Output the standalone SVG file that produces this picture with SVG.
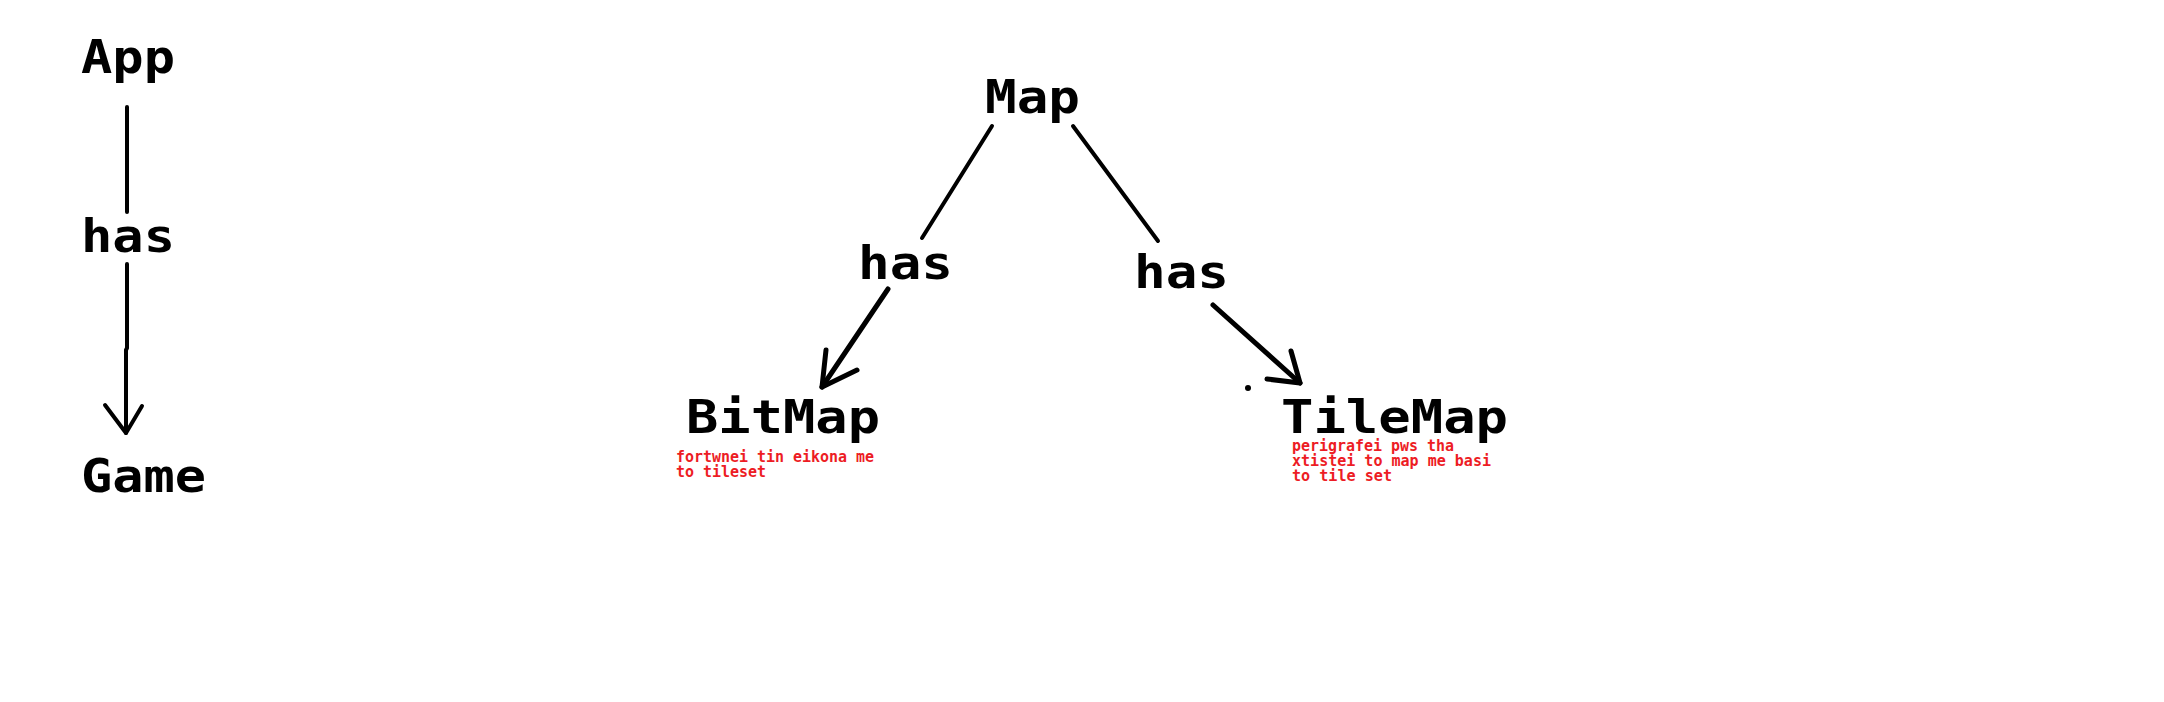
<svg xmlns="http://www.w3.org/2000/svg" width="2164" height="702" viewBox="0 0 2164 702">
<style>
.lbl{font-family:"DejaVu Sans Mono","Liberation Mono",monospace;font-weight:bold;font-size:47px;fill:#000}
.note{font-family:"DejaVu Sans Mono","Liberation Mono",monospace;font-weight:bold;font-size:15px;fill:#ED1C24}
.ln{stroke:#000;stroke-width:4;fill:none;stroke-linecap:round;stroke-linejoin:round}
.ar{stroke:#000;stroke-width:5;fill:none;stroke-linecap:round;stroke-linejoin:round}
</style>
<rect width="2164" height="702" fill="#fff"/>
<g id="connectors">
  <line class="ln" x1="127" y1="107" x2="127" y2="212"/>
  <text id="label-has-1" class="lbl" x="81" y="252" textLength="94" lengthAdjust="spacingAndGlyphs">has</text>
  <path class="ln" d="M127,264 L127,348 L126,350 L126,433"/>
  <path class="ln" d="M105,405 L126,433 L142,406"/>

  <line class="ln" x1="992" y1="126" x2="922" y2="238"/>
  <text id="label-has-2" class="lbl" x="858" y="279" textLength="95" lengthAdjust="spacingAndGlyphs">has</text>
  <line class="ar" x1="888" y1="289" x2="822" y2="387"/>
  <path class="ar" d="M826,350 L822,387 L857,370"/>

  <line class="ln" x1="1073" y1="126" x2="1158" y2="241"/>
  <text id="label-has-3" class="lbl" x="1134" y="288" textLength="95" lengthAdjust="spacingAndGlyphs">has</text>
  <line class="ar" x1="1213" y1="305" x2="1300" y2="383"/>
  <path class="ar" d="M1291,351 L1300,383 L1267,379"/>
  <circle cx="1248" cy="388" r="3" fill="#000"/>
</g>
<g id="node-app">
  <text class="lbl" x="81" y="73" textLength="94" lengthAdjust="spacingAndGlyphs">App</text>
</g>
<g id="node-game">
  <text class="lbl" x="81" y="492" textLength="125" lengthAdjust="spacingAndGlyphs">Game</text>
</g>
<g id="node-map">
  <text class="lbl" x="985" y="113" textLength="95" lengthAdjust="spacingAndGlyphs">Map</text>
</g>
<g id="node-bitmap">
  <text class="lbl" x="686" y="433" textLength="194" lengthAdjust="spacingAndGlyphs">BitMap</text>
  <text class="note" x="676" y="462" textLength="198" lengthAdjust="spacingAndGlyphs">fortwnei tin eikona me</text>
  <text class="note" x="676" y="477" textLength="90" lengthAdjust="spacingAndGlyphs">to tileset</text>
</g>
<g id="node-tilemap">
  <text class="lbl" x="1281" y="433" textLength="227" lengthAdjust="spacingAndGlyphs">TileMap</text>
  <text class="note" x="1292" y="451" textLength="162" lengthAdjust="spacingAndGlyphs">perigrafei pws tha</text>
  <text class="note" x="1292" y="466" textLength="199" lengthAdjust="spacingAndGlyphs">xtistei to map me basi</text>
  <text class="note" x="1292" y="481" textLength="100" lengthAdjust="spacingAndGlyphs">to tile set</text>
</g>
</svg>
